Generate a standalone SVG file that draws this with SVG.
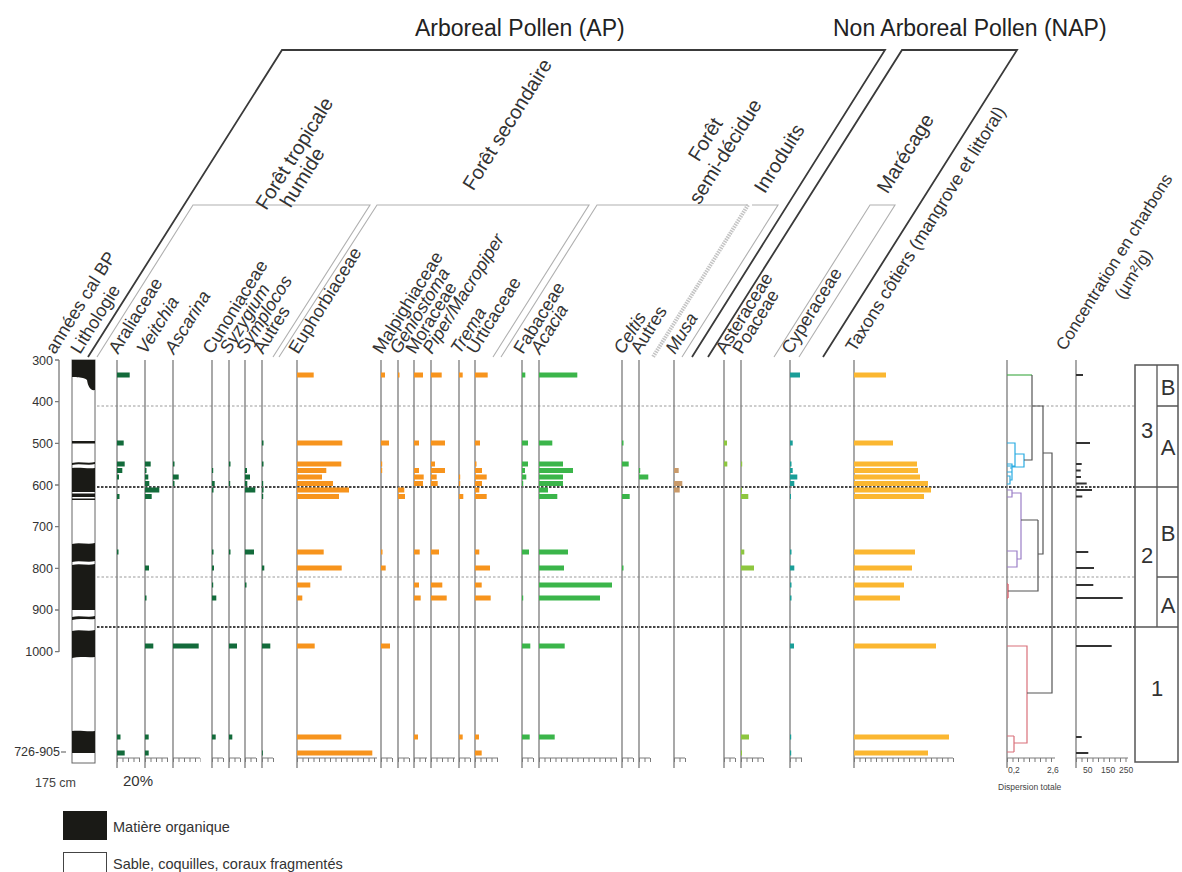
<svg xmlns="http://www.w3.org/2000/svg" width="1182" height="872" viewBox="0 0 1182 872">
<style>
text{font-family:"Liberation Sans",Arial,sans-serif;fill:#333}
.t{font-size:18px}
.g{font-size:20px}
.it{font-style:italic}
.ttl{font-size:23px;fill:#222}
.ax{stroke:#7a7a7a;stroke-width:1.3;fill:none}
.sc{stroke:#7a7a7a;stroke-width:1;fill:none}
.tk{stroke:#7a7a7a;stroke-width:4;stroke-dasharray:1 4.5;fill:none}
.dk{stroke:#3a3a3a;stroke-width:1.8;fill:none}
.lt{stroke:#b0b0b0;stroke-width:1.1;fill:none}
.dg{fill:#136b3b}.or{fill:#f7941d}.gr{fill:#3bb54a}.br{fill:#c99a6a}.lg{fill:#8dc63f}.tl{fill:#1a9e98}.yl{fill:#fbb731}.ch{fill:#333}
.dn{stroke:#555;stroke-width:1.2;fill:none}
.small{font-size:12.5px;fill:#444}
.tiny{font-size:8.5px;fill:#444}
.zn{font-size:22px;fill:#222}
</style>

<g id="header">
  <text class="ttl" x="415" y="36">Arboreal Pollen (AP)</text>
  <text class="ttl" x="833" y="36">Non Arboreal Pollen (NAP)</text>
  <path class="dk" d="M88,357 L282,50 H885 L692,357"/>
  <path class="dk" d="M708,357 L902,50 H1017 L823,357"/>
  <path class="lt" d="M97,357 L193,205 H370 L273,357"/>
  <path class="lt" d="M279,357 L377,205 H589 L493,357"/>
  <path class="lt" d="M501,357 L597,205 H748"/>
  <path d="M748,205 L653,357" stroke="#c4c4c4" stroke-width="4" stroke-dasharray="1.5 1" fill="none"/>
  <path class="lt" d="M752,205 H778 L682,357"/>
  <path class="lt" d="M774,357 L870,205 H895 L799,357"/>
  <text class="g" transform="translate(300,157) rotate(-58)" text-anchor="middle">Forêt tropicale</text>
  <text class="g" transform="translate(308,181) rotate(-58)" text-anchor="middle">humide</text>
  <text class="g" transform="translate(513,128) rotate(-58)" text-anchor="middle">Forêt secondaire</text>
  <text class="g" transform="translate(711,143) rotate(-58)" text-anchor="middle">Forêt</text>
  <text class="g" transform="translate(731,155) rotate(-58)" text-anchor="middle">semi-décidue</text>
  <text class="g" transform="translate(785,162) rotate(-58)" text-anchor="middle">Inroduits</text>
  <text class="g" transform="translate(911,157) rotate(-58)" text-anchor="middle">Marécage</text>
</g>

<g id="taxa-labels" class="t">
  <text transform="translate(55,355) rotate(-58)">années cal BP</text>
  <text transform="translate(80,355) rotate(-58)">Lithologie</text>
  <text transform="translate(118,355) rotate(-58)">Araliaceae</text>
  <text class="it" transform="translate(146,355) rotate(-58)">Veitchia</text>
  <text class="it" transform="translate(174,355) rotate(-58)">Ascarina</text>
  <text transform="translate(212,355) rotate(-58)">Cunoniaceae</text>
  <text class="it" transform="translate(229,355) rotate(-58)">Syzygium</text>
  <text class="it" transform="translate(246,355) rotate(-58)">Symplocos</text>
  <text transform="translate(263,355) rotate(-58)">Autres</text>
  <text transform="translate(298,355) rotate(-58)">Euphorbiaceae</text>
  <text transform="translate(382,355) rotate(-58)">Malpighiaceae</text>
  <text class="it" transform="translate(399,355) rotate(-58)">Geniostoma</text>
  <text transform="translate(415,355) rotate(-58)">Moraceae</text>
  <text class="it" transform="translate(432,355) rotate(-58)">Piper/Macropiper</text>
  <text class="it" transform="translate(460,355) rotate(-58)">Trema</text>
  <text transform="translate(476,355) rotate(-58)">Urticaceae</text>
  <text transform="translate(523,355) rotate(-58)">Fabaceae</text>
  <text class="it" transform="translate(540,355) rotate(-58)">Acacia</text>
  <text class="it" transform="translate(623,355) rotate(-58)">Celtis</text>
  <text transform="translate(640,355) rotate(-58)">Autres</text>
  <text class="it" transform="translate(675,355) rotate(-58)">Musa</text>
  <text transform="translate(725,355) rotate(-58)">Asteraceae</text>
  <text transform="translate(742,355) rotate(-58)">Poaceae</text>
  <text transform="translate(791,355) rotate(-58)">Cyperaceae</text>
  <text transform="translate(855,353) rotate(-58)">Taxons côtiers (mangrove et littoral)</text>
  <text transform="translate(1119,265) rotate(-58)" text-anchor="middle" style="font-size:17px">Concentration en charbons</text>
  <text transform="translate(1138,277) rotate(-58)" text-anchor="middle" style="font-size:17px">(µm²/g)</text>
</g>

<g id="depth-axis">
  <path class="ax" d="M59,360 V652 M55,360 H59 M55,401.7 H59 M55,443.3 H59 M55,485 H59 M55,526.7 H59 M55,568.3 H59 M55,610 H59 M55,651.7 H59"/>
  <g class="small" text-anchor="end">
    <text x="53" y="365">300</text>
    <text x="53" y="406">400</text>
    <text x="53" y="448">500</text>
    <text x="53" y="490">600</text>
    <text x="53" y="531">700</text>
    <text x="53" y="573">800</text>
    <text x="53" y="614">900</text>
    <text x="53" y="656">1000</text>
    <text x="60" y="756">726-905</text>
  </g>
  <path class="ax" d="M61,752 H66"/>
  <text class="small" x="35" y="787">175 cm</text>
  <text x="123" y="786" style="font-size:15px">20%</text>
</g>

<g id="lithology">
  <rect x="72" y="360" width="23" height="403" fill="#fff" stroke="#666" stroke-width="1"/>
  <g fill="#1a1a16">
    <path d="M72,360 H95 V390 C90,391 88,386 87,380 C84,377 79,378 76,377 H72 Z"/>
    <rect x="72" y="441" width="23" height="2.5"/>
    <path d="M72,463 C80,461 88,464 95,462 V464 C88,466 80,463 72,465 Z"/>
    <path d="M72,468 C80,467 88,469 95,468 V492 H72 Z"/>
    <rect x="72" y="493.5" width="23" height="3.5"/>
    <rect x="72" y="498.5" width="23" height="1.5"/>
    <path d="M72,544 C80,542 88,545 95,543 V561 C88,563 80,560 72,562 Z"/>
    <path d="M72,565 C80,563 88,566 95,564 V610 H72 Z"/>
    <path d="M72,617 C80,615 88,618 95,616 V619 C88,620 80,618 72,620 Z"/>
    <path d="M72,631 C80,629 88,632 95,630 V657 C88,658 80,656 72,658 Z"/>
    <path d="M72,731 C80,730 88,732 95,731 V753 H72 Z"/>
  </g>
</g>

<g id="zone-lines">
  <path d="M97,406 H1135 M97,577 H1135" stroke="#9a9a9a" stroke-width="1" stroke-dasharray="2.5 2" fill="none"/>
  <path d="M97,487 H1135 M97,627 H1135" stroke="#454545" stroke-width="2" stroke-dasharray="2.5 1.5" fill="none"/>
</g>

<g id="col-araliaceae">
  <path class="ax" d="M117,360 V768"/><path class="sc" d="M117,758 H140"/><path class="tk" d="M117,760 H141"/>
  <g class="dg">
    <rect x="117" y="372.5" width="12.7" height="5"/><rect x="117" y="440.5" width="6.7" height="5"/><rect x="117" y="461.5" width="7.7" height="5"/><rect x="117" y="468" width="5.3" height="5"/><rect x="117" y="474.5" width="2" height="5"/><rect x="117" y="494" width="2.5" height="5"/><rect x="117" y="549.5" width="1.5" height="5"/><rect x="117" y="734.5" width="3.5" height="5"/><rect x="117" y="750.5" width="7.7" height="5"/>
  </g>
</g>
<g id="col-veitchia">
  <path class="ax" d="M145,360 V768"/><path class="sc" d="M145,758 H168"/><path class="tk" d="M145,760 H169"/>
  <g class="dg">
    <rect x="145" y="461.5" width="5.7" height="5"/><rect x="145" y="468" width="1.5" height="5"/><rect x="145" y="474.5" width="3.3" height="5"/><rect x="145" y="481" width="4.3" height="5"/><rect x="145" y="487.5" width="14.3" height="5"/><rect x="145" y="494" width="6.7" height="5"/><rect x="145" y="565.5" width="4" height="5"/><rect x="145" y="595.5" width="1.5" height="5"/><rect x="145" y="643.5" width="8.3" height="5"/><rect x="145" y="734.5" width="3.7" height="5"/><rect x="145" y="750.5" width="3.7" height="5"/>
  </g>
</g>
<g id="col-ascarina">
  <path class="ax" d="M173,360 V768"/><path class="sc" d="M173,758 H200"/><path class="tk" d="M173,760 H201"/>
  <g class="dg">
    <rect x="173" y="461.5" width="1.5" height="5"/><rect x="173" y="474.5" width="5.7" height="5"/><rect x="173" y="481" width="1.5" height="5"/><rect x="173" y="643.5" width="25.7" height="5"/>
  </g>
</g>
<g id="col-cunoniaceae">
  <path class="ax" d="M212,360 V768"/><path class="sc" d="M212,758 H223"/><path class="tk" d="M212,760 H224"/>
  <g class="dg">
    <rect x="212" y="468" width="1.2" height="5"/><rect x="212" y="481" width="2.7" height="5"/><rect x="212" y="487.5" width="1.5" height="5"/><rect x="212" y="549.5" width="1.5" height="5"/><rect x="212" y="565.5" width="2" height="5"/><rect x="212" y="582.5" width="1.2" height="5"/><rect x="212" y="595.5" width="4.3" height="5"/><rect x="212" y="734.5" width="3.7" height="5"/>
  </g>
</g>
<g id="col-syzygium">
  <path class="ax" d="M229,360 V768"/><path class="sc" d="M229,758 H240"/><path class="tk" d="M229,760 H241"/>
  <g class="dg">
    <rect x="229" y="461.5" width="1.5" height="5"/><rect x="229" y="481" width="1.2" height="5"/><rect x="229" y="549.5" width="1.5" height="5"/><rect x="229" y="643.5" width="8" height="5"/><rect x="229" y="734.5" width="3.3" height="5"/>
  </g>
</g>
<g id="col-symplocos">
  <path class="ax" d="M245,360 V768"/><path class="sc" d="M245,758 H256"/><path class="tk" d="M245,760 H257"/>
  <g class="dg">
    <rect x="245" y="468" width="2" height="5"/><rect x="245" y="474.5" width="5" height="5"/><rect x="245" y="481" width="2.3" height="5"/><rect x="245" y="487.5" width="10.3" height="5"/><rect x="245" y="549.5" width="9" height="5"/><rect x="245" y="582.5" width="1.5" height="5"/>
  </g>
</g>
<g id="col-autres-1">
  <path class="ax" d="M262,360 V768"/><path class="sc" d="M262,758 H273"/><path class="tk" d="M262,760 H274"/>
  <g class="dg">
    <rect x="262" y="440.5" width="1.5" height="5"/><rect x="262" y="461.5" width="1.5" height="5"/><rect x="262" y="481" width="1.2" height="5"/><rect x="262" y="487.5" width="1.5" height="5"/><rect x="262" y="494" width="1.2" height="5"/><rect x="262" y="565.5" width="2.3" height="5"/><rect x="262" y="643.5" width="8.3" height="5"/><rect x="262" y="750.5" width="0.8" height="5"/>
  </g>
</g>

<g id="col-euphorbiaceae">
  <path class="ax" d="M297,360 V768"/><path class="sc" d="M297,758 H377"/><path class="tk" d="M297,760 H378"/>
  <g class="or">
    <rect x="297" y="372.5" width="16.7" height="5"/><rect x="297" y="440.5" width="45.3" height="5"/><rect x="297" y="461.5" width="44.3" height="5"/><rect x="297" y="468" width="29.3" height="5"/><rect x="297" y="474.5" width="25" height="5"/><rect x="297" y="481" width="36" height="5"/><rect x="297" y="487.5" width="52" height="5"/><rect x="297" y="494" width="42" height="5"/><rect x="297" y="549.5" width="26.7" height="5"/><rect x="297" y="565.5" width="44.7" height="5"/><rect x="297" y="582.5" width="13.3" height="5"/><rect x="297" y="595.5" width="5.3" height="5"/><rect x="297" y="643.5" width="17.7" height="5"/><rect x="297" y="734.5" width="44.3" height="5"/><rect x="297" y="750.5" width="75.3" height="5"/>
  </g>
</g>
<g id="col-malpighiaceae">
  <path class="ax" d="M381,360 V768"/><path class="sc" d="M381,758 H392"/><path class="tk" d="M381,760 H393"/>
  <g class="or">
    <rect x="381" y="372.5" width="4" height="5"/><rect x="381" y="440.5" width="8" height="5"/><rect x="381" y="461.5" width="1.2" height="5"/><rect x="381" y="468" width="1.2" height="5"/><rect x="381" y="549.5" width="1.5" height="5"/><rect x="381" y="565.5" width="4.7" height="5"/><rect x="381" y="643.5" width="9" height="5"/>
  </g>
</g>
<g id="col-geniostoma">
  <path class="ax" d="M398,360 V768"/><path class="sc" d="M398,758 H409"/><path class="tk" d="M398,760 H410"/>
  <g class="or">
    <rect x="398" y="372.5" width="1.5" height="5"/><rect x="398" y="487.5" width="6.3" height="5"/><rect x="398" y="494" width="7" height="5"/>
  </g>
</g>
<g id="col-moraceae">
  <path class="ax" d="M414,360 V768"/><path class="sc" d="M414,758 H427"/><path class="tk" d="M414,760 H428"/>
  <g class="or">
    <rect x="414" y="372.5" width="9" height="5"/><rect x="414" y="440.5" width="5" height="5"/><rect x="414" y="468" width="5" height="5"/><rect x="414" y="474.5" width="9.7" height="5"/><rect x="414" y="481" width="9" height="5"/><rect x="414" y="549.5" width="5.7" height="5"/><rect x="414" y="582.5" width="5" height="5"/><rect x="414" y="595.5" width="6.7" height="5"/><rect x="414" y="734.5" width="4" height="5"/>
  </g>
</g>
<g id="col-piper">
  <path class="ax" d="M431,360 V768"/><path class="sc" d="M431,758 H455"/><path class="tk" d="M431,760 H456"/>
  <g class="or">
    <rect x="431" y="372.5" width="10.7" height="5"/><rect x="431" y="440.5" width="14" height="5"/><rect x="431" y="461.5" width="4" height="5"/><rect x="431" y="468" width="14" height="5"/><rect x="431" y="474.5" width="5.7" height="5"/><rect x="431" y="481" width="6.7" height="5"/><rect x="431" y="549.5" width="8" height="5"/><rect x="431" y="582.5" width="11.3" height="5"/><rect x="431" y="595.5" width="15.7" height="5"/>
  </g>
</g>
<g id="col-trema">
  <path class="ax" d="M459,360 V768"/><path class="sc" d="M459,758 H470"/><path class="tk" d="M459,760 H471"/>
  <g class="or">
    <rect x="459" y="372.5" width="3.7" height="5"/><rect x="459" y="474.5" width="1.2" height="5"/><rect x="459" y="481" width="1.2" height="5"/><rect x="459" y="494" width="4.3" height="5"/><rect x="459" y="734.5" width="3.7" height="5"/>
  </g>
</g>
<g id="col-urticaceae">
  <path class="ax" d="M475,360 V768"/><path class="sc" d="M475,758 H498"/><path class="tk" d="M475,760 H499"/>
  <g class="or">
    <rect x="475" y="372.5" width="12.7" height="5"/><rect x="475" y="440.5" width="5" height="5"/><rect x="475" y="461.5" width="1.5" height="5"/><rect x="475" y="468" width="7" height="5"/><rect x="475" y="474.5" width="11.7" height="5"/><rect x="475" y="481" width="7" height="5"/><rect x="475" y="487.5" width="4.3" height="5"/><rect x="475" y="494" width="11.7" height="5"/><rect x="475" y="549.5" width="4.3" height="5"/><rect x="475" y="565.5" width="15" height="5"/><rect x="475" y="582.5" width="6.7" height="5"/><rect x="475" y="595.5" width="15.7" height="5"/><rect x="475" y="734.5" width="4" height="5"/><rect x="475" y="750.5" width="6.7" height="5"/>
  </g>
</g>

<g id="col-fabaceae">
  <path class="ax" d="M522,360 V768"/><path class="sc" d="M522,758 H533"/><path class="tk" d="M522,760 H534"/>
  <g class="gr">
    <rect x="522" y="372.5" width="3.3" height="5"/><rect x="522" y="440.5" width="6" height="5"/><rect x="522" y="461.5" width="6" height="5"/><rect x="522" y="468" width="3" height="5"/><rect x="522" y="474.5" width="4.3" height="5"/><rect x="522" y="481" width="1.2" height="5"/><rect x="522" y="549.5" width="7" height="5"/><rect x="522" y="595.5" width="1.2" height="5"/><rect x="522" y="643.5" width="8.3" height="5"/><rect x="522" y="734.5" width="7.7" height="5"/>
  </g>
</g>
<g id="col-acacia">
  <path class="ax" d="M539,360 V768"/><path class="sc" d="M539,758 H617"/><path class="tk" d="M539,760 H618"/>
  <g class="gr">
    <rect x="539" y="372.5" width="38.3" height="5"/><rect x="539" y="440.5" width="13.3" height="5"/><rect x="539" y="461.5" width="24" height="5"/><rect x="539" y="468" width="34" height="5"/><rect x="539" y="474.5" width="24" height="5"/><rect x="539" y="481" width="24" height="5"/><rect x="539" y="487.5" width="9" height="5"/><rect x="539" y="494" width="18.3" height="5"/><rect x="539" y="549.5" width="29" height="5"/><rect x="539" y="565.5" width="25" height="5"/><rect x="539" y="582.5" width="73" height="5"/><rect x="539" y="595.5" width="61" height="5"/><rect x="539" y="643.5" width="25.7" height="5"/><rect x="539" y="734.5" width="15.7" height="5"/>
  </g>
</g>
<g id="col-celtis">
  <path class="ax" d="M622,360 V768"/><path class="sc" d="M622,758 H633"/><path class="tk" d="M622,760 H634"/>
  <g class="gr">
    <rect x="622" y="440.5" width="1.5" height="5"/><rect x="622" y="461.5" width="6.7" height="5"/><rect x="622" y="494" width="7.7" height="5"/><rect x="622" y="565.5" width="1.5" height="5"/>
  </g>
</g>
<g id="col-autres-2">
  <path class="ax" d="M639,360 V768"/><path class="sc" d="M639,758 H650"/><path class="tk" d="M639,760 H651"/>
  <g class="gr">
    <rect x="639" y="468" width="1.2" height="5"/><rect x="639" y="474.5" width="9.3" height="5"/>
  </g>
</g>
<g id="col-musa">
  <path class="ax" d="M674,360 V768"/><path class="sc" d="M674,758 H685"/><path class="tk" d="M674,760 H686"/>
  <g class="br">
    <rect x="674" y="468" width="4.7" height="5"/><rect x="674" y="481" width="8.3" height="5"/><rect x="674" y="487.5" width="5.7" height="5"/>
  </g>
</g>
<g id="col-asteraceae">
  <path class="ax" d="M724,360 V768"/><path class="sc" d="M724,758 H735"/><path class="tk" d="M724,760 H736"/>
  <g class="lg">
    <rect x="724" y="440.5" width="3" height="5"/><rect x="724" y="461.5" width="3.3" height="5"/>
  </g>
</g>
<g id="col-poaceae">
  <path class="ax" d="M741,360 V768"/><path class="sc" d="M741,758 H763"/><path class="tk" d="M741,760 H764"/>
  <g class="lg">
    <rect x="741" y="461.5" width="1.2" height="5"/><rect x="741" y="487.5" width="1" height="5"/><rect x="741" y="494" width="7.3" height="5"/><rect x="741" y="549.5" width="3.3" height="5"/><rect x="741" y="565.5" width="13" height="5"/><rect x="741" y="734.5" width="8" height="5"/><rect x="741" y="750.5" width="1" height="5"/>
  </g>
</g>
<g id="col-cyperaceae">
  <path class="ax" d="M790,360 V768"/><path class="sc" d="M790,758 H802"/><path class="tk" d="M790,760 H803"/>
  <g class="tl">
    <rect x="790" y="372.5" width="10" height="5"/><rect x="790" y="440.5" width="2.7" height="5"/><rect x="790" y="461.5" width="1.5" height="5"/><rect x="790" y="468" width="2.7" height="5"/><rect x="790" y="474.5" width="7.3" height="5"/><rect x="790" y="481" width="4.3" height="5"/><rect x="790" y="494" width="1" height="5"/><rect x="790" y="549.5" width="1.5" height="5"/><rect x="790" y="565.5" width="4.3" height="5"/><rect x="790" y="582.5" width="1.5" height="5"/><rect x="790" y="595.5" width="1.5" height="5"/><rect x="790" y="643.5" width="4" height="5"/><rect x="790" y="734.5" width="1.2" height="5"/><rect x="790" y="750.5" width="1.2" height="5"/>
  </g>
</g>
<g id="col-taxons-cotiers">
  <path class="ax" d="M854,360 V768"/><path class="sc" d="M854,758 H953"/><path class="tk" d="M854,760 H954"/>
  <g class="yl">
    <rect x="854" y="372.5" width="32" height="5"/><rect x="854" y="440.5" width="39" height="5"/><rect x="854" y="461.5" width="63" height="5"/><rect x="854" y="468" width="64" height="5"/><rect x="854" y="474.5" width="66" height="5"/><rect x="854" y="481" width="74" height="5"/><rect x="854" y="487.5" width="77" height="5"/><rect x="854" y="494" width="70" height="5"/><rect x="854" y="549.5" width="61" height="5"/><rect x="854" y="565.5" width="58" height="5"/><rect x="854" y="582.5" width="50" height="5"/><rect x="854" y="595.5" width="46" height="5"/><rect x="854" y="643.5" width="82" height="5"/><rect x="854" y="734.5" width="95" height="5"/><rect x="854" y="750.5" width="74" height="5"/>
  </g>
</g>

<g id="dendrogram">
  <path class="ax" d="M1007,360 V768"/><path class="sc" d="M1007,758 H1055"/><path class="tk" d="M1007,760 H1056"/>
  <text class="tiny" x="1008" y="773">0,2</text>
  <text class="tiny" x="1047" y="773">2,6</text>
  <text class="tiny" x="998" y="790">Dispersion totale</text>
  <path d="M1007,375 H1032" stroke="#4caf50" stroke-width="1.2" fill="none"/>
  <path d="M1007,443 H1015 V466 H1007 M1015,454 H1024 V467 H1012 M1007,464 H1012 V472 H1007 M1010,468 H1012 M1007,476 H1010 V484 H1007 M1010,480 H1012 V468" stroke="#29abe2" stroke-width="1.2" fill="none"/>
  <path d="M1007,490 H1012 V497 H1007 M1012,493 H1021 V559 H1017 M1007,551 H1017 V567 H1007" stroke="#9b7fc7" stroke-width="1.2" fill="none"/>
  <path d="M1008,584 V598 M1007,584 H1008 M1007,598 H1008" stroke="#d9707a" stroke-width="1.5" fill="none"/>
  <path d="M1007,646 H1027 V743 H1014 M1014,736 V752 M1007,736 H1014 M1007,752 H1014" stroke="#d9707a" stroke-width="1.2" fill="none"/>
  <path class="dn" d="M1032,375 V460 H1024 M1032,406 H1043 V554 H1038 M1038,520 H1021 M1038,520 V591 H1008 M1043,453 H1052 V693 H1027"/>
</g>

<g id="charcoal">
  <path class="ax" d="M1076,360 V768"/><path class="sc" d="M1076,758 H1128"/><path class="tk" d="M1076,760 H1129"/>
  <text class="tiny" x="1083" y="773">50</text>
  <text class="tiny" x="1101" y="773">150</text>
  <text class="tiny" x="1119" y="773">250</text>
  <g class="ch">
    <rect x="1076" y="374" width="7" height="2"/><rect x="1076" y="442" width="14" height="2"/><rect x="1076" y="463" width="5.7" height="2"/><rect x="1076" y="469.5" width="4.7" height="2"/><rect x="1076" y="476" width="5" height="2"/><rect x="1076" y="482.5" width="10.7" height="2"/><rect x="1076" y="489" width="16" height="2"/><rect x="1076" y="495.5" width="6.3" height="2"/><rect x="1076" y="551" width="12.3" height="2"/><rect x="1076" y="567" width="18" height="2"/><rect x="1076" y="584" width="17.3" height="2"/><rect x="1076" y="597" width="46.7" height="2"/><rect x="1076" y="645" width="35.7" height="2"/><rect x="1076" y="736" width="5.7" height="2"/><rect x="1076" y="752" width="12.3" height="2"/>
  </g>
</g>

<g id="zones">
  <rect x="1135" y="365" width="43" height="397" fill="none" stroke="#555" stroke-width="1.5"/>
  <path d="M1157,365 V627 M1135,487 H1178 M1135,627 H1178 M1157,406 H1178 M1157,577 H1178" stroke="#555" stroke-width="1.3" fill="none"/>
  <g class="zn" text-anchor="middle">
    <text x="1168" y="395">B</text>
    <text x="1147" y="438">3</text>
    <text x="1168" y="455">A</text>
    <text x="1168" y="541">B</text>
    <text x="1147" y="563">2</text>
    <text x="1168" y="613">A</text>
    <text x="1157" y="696">1</text>
  </g>
</g>

<g id="legend">
  <rect x="63" y="811" width="44" height="29" fill="#1a1a16"/>
  <text x="113" y="832" style="font-size:14.5px">Matière organique</text>
  <rect x="63.5" y="852.5" width="43" height="28" fill="#fff" stroke="#444" stroke-width="1"/>
  <text x="113" y="869" style="font-size:14.5px">Sable, coquilles, coraux fragmentés</text>
</g>
</svg>
